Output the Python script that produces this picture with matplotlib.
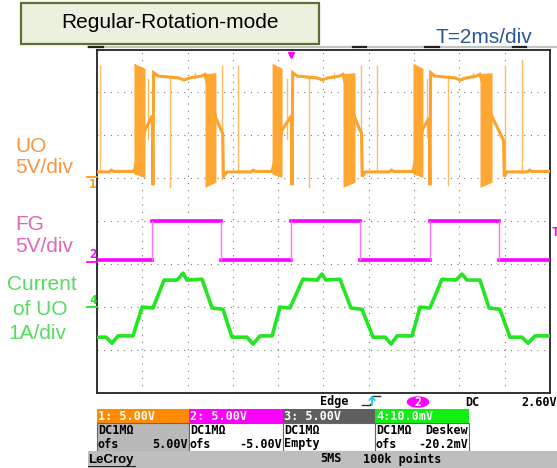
import numpy as np
import matplotlib
matplotlib.use("Agg")
import matplotlib.pyplot as plt
from matplotlib.patches import Rectangle, Ellipse
from matplotlib.lines import Line2D

# ---- data (time in ms, 2 ms/div) ----
# channel 1: UO voltage (V), 5 V/div, offset +1 div
uo_t = [0.00, 0.55, 0.62, 0.75, 1.63, 2.12, 2.44, 2.47, 2.50, 2.70, 3.60, 3.84, 4.10, 4.60, 4.77,
        5.25, 5.55, 5.58, 5.75, 6.80, 6.89, 7.00, 7.73, 8.17, 8.58, 8.61, 8.64, 8.85, 9.70, 9.95,
        10.20, 10.70, 10.86, 11.39, 11.68, 11.71, 11.85, 12.90, 13.00, 13.10, 13.95, 14.39, 14.67,
        14.70, 14.73, 14.93, 15.80, 16.05, 16.30, 16.75, 16.91, 17.44, 17.95, 17.98, 18.10, 19.00,
        19.10, 19.20, 20.00]
uo_v = [0.75, 0.75, 0.95, 0.80, 0.80, 5.6, 7.3, -0.8, 12.3, 11.9, 11.7, 11.45, 11.7, 11.9, 12.1,
        7.0, 5.2, 0.2, 0.75, 0.75, 0.95, 0.80, 0.80, 5.6, 7.3, -0.8, 12.3, 11.9, 11.7, 11.45,
        11.7, 11.9, 12.1, 7.0, 5.2, 0.2, 0.75, 0.75, 0.95, 0.80, 0.80, 5.8, 7.0,
        -0.8, 12.3, 11.9, 11.7, 11.45, 11.7, 11.9, 12.1, 7.2, 4.4, 0.2, 0.75, 0.75,
        0.95, 0.80, 0.80]

# PWM bursts (drawn as filled blocks)
pwm_a_start = [1.63, 7.73, 13.95]
pwm_a_end = [2.12, 8.17, 14.39]
pwm_a_top = [13.4, 12.8]
pwm_a_bot = [0.5, 0.1]
pwm_b_start = [4.77, 10.86, 16.91]
pwm_b_end = [5.25, 11.39, 17.44]
pwm_b_top = [12.2, 12.3]
pwm_b_bot = [-1.05, -0.45]

# single spikes on UO
spike_t = [0.13, 2.25, 3.22, 4.33, 5.52, 6.23, 8.39, 9.36, 10.47, 11.66, 12.37, 14.57, 15.50, 16.60, 18.00, 18.76]
spike_lo = [0.7, 4.6, -1.05, 11.7, 0.7, 0.7, 4.6, -1.05, 11.7, 0.7, 0.7, 4.8, -0.8, 11.7, 0.7, 0.7]
spike_hi = [13.1, 11.6, 11.7, 12.3, 13.1, 13.1, 11.6, 11.7, 12.3, 13.1, 13.1, 11.6, 11.7, 12.3, 13.1, 13.8]

# channel 2: FG (V), 5 V/div, offset -1 div
fg_edges = [2.43, 5.47, 8.56, 11.61, 14.70, 17.75]
fg_low = 0.45
fg_high = 5.0

# channel 4: current of UO (A), 1 A/div, offset -2 div
cur_t = [0.00, 0.40, 0.66, 0.93, 1.59, 1.99, 2.47, 2.96, 3.53, 3.80, 3.97, 4.64, 5.08, 5.56, 5.96,
         6.62, 6.89, 7.20, 7.73, 8.08, 8.52, 9.09, 9.71, 9.93, 10.11, 10.73, 11.21, 11.70, 12.19,
         12.72, 12.98, 13.25, 13.91, 14.26, 14.70, 15.23, 15.85, 16.11, 16.34, 16.91, 17.31, 17.79,
         18.23, 18.76, 19.03, 19.34, 20.00]
cur_a = [-0.70, -0.70, -0.84, -0.67, -0.67, 0.00, -0.02, 0.63, 0.63, 0.79, 0.63, 0.65, -0.02, -0.05, -0.70,
         -0.70, -0.86, -0.67, -0.67, 0.00, -0.02, 0.65, 0.63, 0.77, 0.63, 0.65, -0.02, -0.05, -0.70,
         -0.70, -0.86, -0.67, -0.67, 0.00, -0.02, 0.65, 0.63, 0.77, 0.63, 0.63, -0.02, -0.05,
         -0.70, -0.70, -0.84, -0.67, -0.67]

W, H = 557, 468
def fx(x):
    return x / W
def fy(y):
    return 1 - y / H

ORANGE = "#FFA229"
MAGENTA = "#FF00FF"
GREEN = "#22E622"
mono = dict(family="DejaVu Sans Mono", weight="bold")

fig = plt.figure(figsize=(W / 100, H / 100), dpi=100)
fig.patch.set_facecolor("white")

# scope screen
ax = fig.add_axes([fx(97), fy(393), (550 - 97) / W, (393 - 49.5) / H])
ax.set_xlim(0, 20)
ax.set_ylim(-4, 4)
ax.set_xticks([])
ax.set_yticks([])
for s in ax.spines.values():
    s.set_color("#222222")
    s.set_linewidth(1.3)

ax.vlines(np.arange(2, 20, 2), -4, 4, colors="#7A7A7A", linestyles=(0, (1, 5.5)), linewidth=0.8, zorder=1)
ax.hlines(np.arange(-3, 4, 1), 0, 20, colors="#7A7A7A", linestyles=(0, (1, 5)), linewidth=0.8, zorder=1)

# UO
ax.plot(uo_t, np.array(uo_v) / 5 + 1, color=ORANGE, lw=2.2, zorder=3, solid_joinstyle="miter")
for i in range(len(spike_t)):
    ax.plot([spike_t[i], spike_t[i]], [spike_lo[i] / 5 + 1, spike_hi[i] / 5 + 1],
            color="#FFBB66", lw=1.0, zorder=2)
for s, e in zip(pwm_a_start, pwm_a_end):
    ax.fill_between([s, e], np.array(pwm_a_bot) / 5 + 1, np.array(pwm_a_top) / 5 + 1,
                    color="#FFA733", lw=0, zorder=4)
for s, e in zip(pwm_b_start, pwm_b_end):
    ax.fill_between([s, e], np.array(pwm_b_bot) / 5 + 1, np.array(pwm_b_top) / 5 + 1,
                    color="#FFA733", lw=0, zorder=4)

# FG
levels = [fg_low, fg_high] * 4
bounds = [0] + fg_edges + [20]
for i in range(len(bounds) - 1):
    ax.plot([bounds[i], bounds[i + 1]], [levels[i] / 5 - 1] * 2, color=MAGENTA, lw=2.6, zorder=3)
ax.vlines(fg_edges, fg_low / 5 - 1, fg_high / 5 - 1, colors="#FF70FF", lw=1.0, zorder=3)

# current
ax.plot(cur_t, np.array(cur_a) - 2, color=GREEN, lw=2.6, zorder=3)

# trigger position marker
ax.plot(8.56, 3.88, marker="v", color=MAGENTA, ms=4, clip_on=False, zorder=5)

# title box and time base
fig.add_artist(Rectangle((fx(21), fy(44)), 298 / W, 41 / H, transform=fig.transFigure,
                         facecolor="#EBF1DE", edgecolor="#5E7030", lw=1.6))
fig.text(fx(170), fy(28.5), "Regular-Rotation-mode", ha="center", va="baseline",
         fontsize=15, family="Liberation Sans")
fig.text(fx(436), fy(43), "T=2ms/div", ha="left", va="baseline", fontsize=15,
         family="Liberation Sans", color="#2B5797")

# top bar
fig.add_artist(Line2D([fx(88), fx(557)], [fy(47), fy(47)], transform=fig.transFigure,
                      color="#C4C4C4", lw=1.6))
for a, b in [(89, 103), (353, 366), (425, 439), (513, 526)]:
    fig.add_artist(Line2D([fx(a), fx(b)], [fy(47), fy(47)], transform=fig.transFigure,
                          color="#222222", lw=1.6))

# channel labels
fig.text(fx(15), fy(151.5), "UO", fontsize=15, family="Liberation Sans", color="#F79646", va="baseline")
fig.text(fx(15), fy(173), "5V/div", fontsize=15, family="Liberation Sans", color="#F79646", va="baseline")
fig.text(fx(15), fy(230), "FG", fontsize=15, family="Liberation Sans", color="#E066B8", va="baseline")
fig.text(fx(15), fy(252.5), "5V/div", fontsize=15, family="Liberation Sans", color="#E066B8", va="baseline")
fig.text(fx(42), fy(290.5), "Current", fontsize=15, family="Liberation Sans", color="#55DB60", va="baseline", ha="center")
fig.text(fx(40), fy(315), "of UO", fontsize=15, family="Liberation Sans", color="#55DB60", va="baseline", ha="center")
fig.text(fx(37), fy(339), "1A/div", fontsize=15, family="Liberation Sans", color="#55DB60", va="baseline", ha="center")

# ground markers
for yy, ty, txt, col in [(177, 185, "1", "#FF9A1A"), (262, 255, "2", MAGENTA), (307, 300, "4", GREEN)]:
    fig.add_artist(Line2D([fx(87), fx(97)], [fy(yy), fy(yy)], transform=fig.transFigure, color=col, lw=1.3))
    fig.text(fx(93), fy(ty), txt, ha="center", va="center", fontsize=9, color=col, **mono)
fig.text(fx(551), fy(232), "T", ha="left", va="center", fontsize=9, color=MAGENTA, **mono)

# trigger line
fs = 8.5
fig.text(fx(320), fy(402), "Edge", ha="left", va="center", fontsize=fs, **mono)
fig.add_artist(Line2D([fx(362), fx(370), fx(370)], [fy(405), fy(405), fy(404)], transform=fig.transFigure, color="#333333", lw=1))
fig.add_artist(Line2D([fx(372), fx(380)], [fy(396), fy(396)], transform=fig.transFigure, color="#333333", lw=1))
fig.add_artist(Line2D([fx(372), fx(372)], [fy(405), fy(397)], transform=fig.transFigure, color="#22C8F0", lw=1.3))
fig.add_artist(Line2D([fx(369.5), fx(372), fx(374.5)], [fy(400), fy(397), fy(400)], transform=fig.transFigure, color="#22C8F0", lw=1.3))
fig.add_artist(Ellipse((fx(418), fy(402)), 21 / W, 10 / H, transform=fig.transFigure, color=MAGENTA))
fig.text(fx(418), fy(402), "2", ha="center", va="center", fontsize=fs, color="white", **mono)
fig.text(fx(465), fy(402), "DC", ha="left", va="center", fontsize=fs, **mono)
fig.text(fx(557), fy(402), "2.60V", ha="right", va="center", fontsize=fs, **mono)

# channel boxes
boxes = [
    (97, 189, "#FF8C00", "#B9B9B9", "1: 5.00V", "DC1M\u03a9", "", "ofs", "5.00V"),
    (189, 283, MAGENTA, "white", "2: 5.00V", "DC1M\u03a9", "", "ofs", "-5.00V"),
    (283, 375, "#5F5F5F", "white", "3: 5.00V", "DC1M\u03a9", "", "Empty", ""),
    (375, 469, "#11EE11", "white", "4:10.0mV", "DC1M\u03a9", "Deskew", "ofs", "-20.2mV"),
]
for x0, x1, hc, bc, head, r2l, r2r, r3l, r3r in boxes:
    fig.add_artist(Rectangle((fx(x0), fy(423)), (x1 - x0) / W, 14 / H, transform=fig.transFigure,
                             facecolor=hc, edgecolor="none"))
    fig.add_artist(Rectangle((fx(x0), fy(451)), (x1 - x0) / W, 28 / H, transform=fig.transFigure,
                             facecolor=bc, edgecolor="#666666", lw=0.8))
    fig.text(fx(x0 + 1), fy(416), head, ha="left", va="center", fontsize=fs, color="white", **mono)
    fig.text(fx(x0 + 1), fy(430.5), r2l, ha="left", va="center", fontsize=fs, **mono)
    fig.text(fx(x1 - 1), fy(430.5), r2r, ha="right", va="center", fontsize=fs, **mono)
    fig.text(fx(x0 + 1), fy(444), r3l, ha="left", va="center", fontsize=fs, **mono)
    fig.text(fx(x1 - 1), fy(444), r3r, ha="right", va="center", fontsize=fs, **mono)

# bottom status bar
fig.add_artist(Rectangle((fx(88), fy(468)), (557 - 88) / W, 17 / H, transform=fig.transFigure,
                         facecolor="#BEBEBE", edgecolor="none"))
fig.text(fx(88), fy(459.5), "LeCroy", ha="left", va="center", fontsize=9.5, weight="bold",
         family="Liberation Sans")
fig.add_artist(Line2D([fx(88), fx(135)], [fy(465.5), fy(465.5)], transform=fig.transFigure,
                      color="#222222", lw=0.8))
fig.text(fx(320), fy(459), "5MS", ha="left", va="center", fontsize=fs, **mono)
fig.text(fx(363), fy(459), "100k points", ha="left", va="center", fontsize=fs, **mono)

fig.savefig("out.png", dpi=100)
